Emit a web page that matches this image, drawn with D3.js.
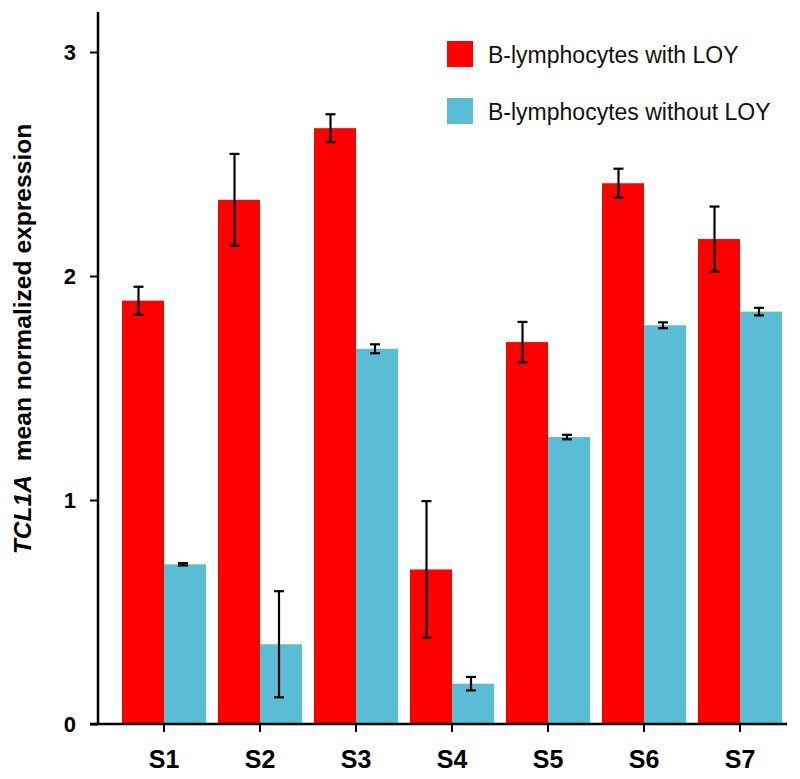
<!DOCTYPE html>
<html>
<head>
<meta charset="utf-8">
<script src="https://cdn.jsdelivr.net/npm/d3@7"></script>
<style>
  body { margin: 0; background: #fff; }
  text { font-family: "Liberation Sans", Arial, Helvetica, sans-serif; }
</style>
</head>
<body>
<div id="chart"></div>
<script>
// datos
const samples = ["S1", "S2", "S3", "S4", "S5", "S6", "S7"];
const series = ["withLOY", "withoutLOY"];
const seriesLabels = ["B-lymphocytes with LOY", "B-lymphocytes without LOY"];
const withLOY = [1.89, 2.34, 2.66, 0.69, 1.705, 2.414, 2.165];
const withLOYErr = [0.062, 0.205, 0.062, 0.305, 0.09, 0.065, 0.145];
const withoutLOY = [0.713, 0.356, 1.675, 0.18, 1.281, 1.78, 1.841];
const withoutLOYErr = [0.005, 0.237, 0.02, 0.03, 0.01, 0.013, 0.017];
const yTicks = [0, 1, 2, 3];

const width = 800;
const height = 779;
const color = d3.scaleOrdinal().domain(series).range(["#ff0000", "#5bbcd6"]);

const svg = d3.select("#chart")
    .append("svg")
    .attr("width", width)
    .attr("height", height);

const y = d3.scaleLinear().domain([0, 3]).range([724, 52]);

const x = d3.scaleBand()
    .domain(samples)
    .range([116, 788])
    .paddingInner(0.125)
    .paddingOuter(0.0625);

const xSub = d3.scaleBand()
    .domain(series)
    .range([0, x.bandwidth()]);

const rows = samples.map((s, i) => ({
    sample: s,
    values: [
        { key: "withLOY", v: withLOY[i], e: withLOYErr[i] },
        { key: "withoutLOY", v: withoutLOY[i], e: withoutLOYErr[i] }
    ]
}));

// barras
const groups = svg.selectAll("g.group")
    .data(rows)
    .enter().append("g")
    .attr("class", "group")
    .attr("transform", d => "translate(" + x(d.sample) + ",0)");

groups.selectAll("rect")
    .data(d => d.values)
    .enter().append("rect")
    .attr("x", d => xSub(d.key))
    .attr("y", d => y(d.v))
    .attr("width", xSub.bandwidth())
    .attr("height", d => y(0) - y(d.v))
    .attr("fill", d => color(d.key));

// barras de error (un poco a la izquierda del centro, como en la figura)
const err = groups.selectAll("g.err")
    .data(d => d.values)
    .enter().append("g")
    .attr("class", "err")
    .attr("stroke", "#000")
    .attr("stroke-width", 2.2);

const cx = d => xSub(d.key) + xSub.bandwidth() / 2 - (d.key === "withLOY" ? 4.5 : 2);

err.append("line")
    .attr("x1", cx).attr("x2", cx)
    .attr("y1", d => y(d.v + d.e))
    .attr("y2", d => y(d.v - d.e));
err.append("line")
    .attr("x1", d => cx(d) - 5).attr("x2", d => cx(d) + 5)
    .attr("y1", d => y(d.v + d.e)).attr("y2", d => y(d.v + d.e));
err.append("line")
    .attr("x1", d => cx(d) - 5).attr("x2", d => cx(d) + 5)
    .attr("y1", d => y(d.v - d.e)).attr("y2", d => y(d.v - d.e));

// eje Y
const yAxis = svg.append("g")
    .attr("transform", "translate(98,0)")
    .call(d3.axisLeft(y).tickValues(yTicks).tickFormat(d3.format("d")).tickSize(8).tickPadding(14));
yAxis.select(".domain").remove();
yAxis.selectAll(".tick line").attr("stroke-width", 2);
yAxis.selectAll("text")
    .attr("font-size", 22)
    .attr("font-weight", "bold")
    .attr("fill", "#000");

svg.append("line")
    .attr("x1", 98).attr("x2", 98)
    .attr("y1", 12).attr("y2", y(0))
    .attr("stroke", "#000")
    .attr("stroke-width", 2.5);

// eje X
const xAxis = svg.append("g")
    .attr("transform", "translate(0," + y(0) + ")")
    .call(d3.axisBottom(x).tickSize(8).tickPadding(18));
xAxis.select(".domain").remove();
xAxis.selectAll(".tick line").attr("stroke-width", 2);
xAxis.selectAll("text")
    .attr("font-size", 25)
    .attr("font-weight", "bold")
    .attr("fill", "#000");

svg.append("line")
    .attr("x1", 90).attr("x2", 787)
    .attr("y1", y(0)).attr("y2", y(0))
    .attr("stroke", "#000")
    .attr("stroke-width", 2.5);

// titulo eje Y
const yTitle = svg.append("text")
    .attr("transform", "translate(31," + 339 + ") rotate(-90)")
    .attr("text-anchor", "middle")
    .attr("font-size", 24.6)
    .attr("font-weight", "bold")
    .attr("fill", "#000");
yTitle.append("tspan").attr("font-style", "italic").text("TCL1A");
yTitle.append("tspan").attr("xml:space", "preserve").text("  mean normalized expression");

// leyenda
const legend = svg.selectAll("g.legend")
    .data(series)
    .enter().append("g")
    .attr("class", "legend")
    .attr("transform", (d, i) => "translate(447," + (41 + i * 57) + ")");

legend.append("rect")
    .attr("width", 26)
    .attr("height", 26)
    .attr("fill", d => color(d));

legend.append("text")
    .attr("x", 41)
    .attr("y", 22)
    .attr("font-size", 23)
    .attr("fill", "#111")
    .text((d, i) => seriesLabels[i]);
</script>
</body>
</html>
